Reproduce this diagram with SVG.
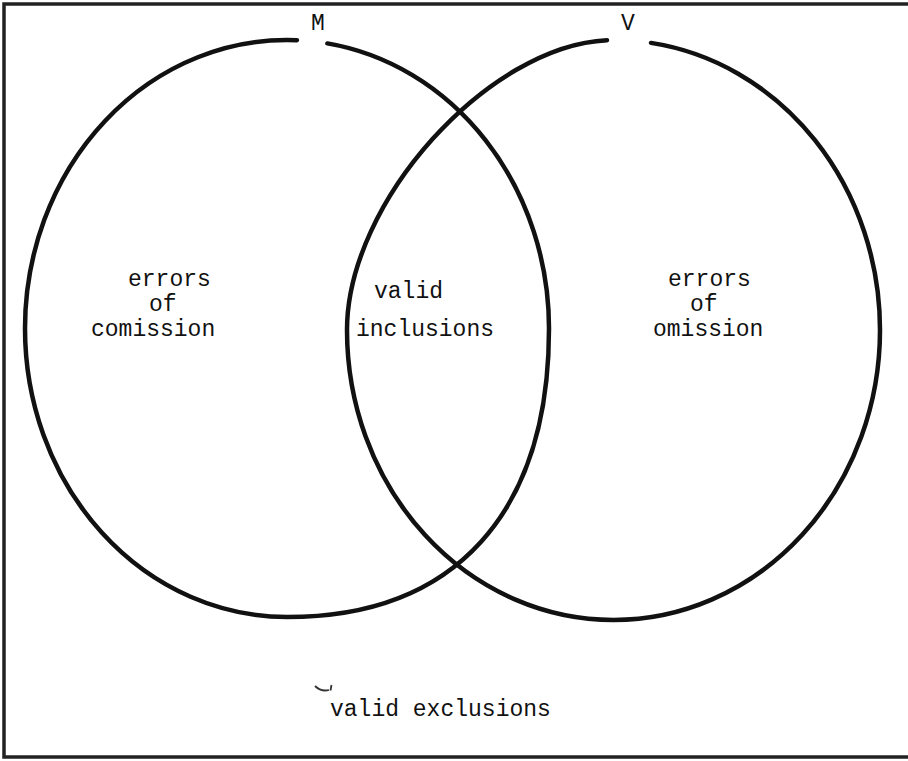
<svg xmlns="http://www.w3.org/2000/svg" width="908" height="761" viewBox="0 0 908 761">
<style>
.ring{fill:none;stroke:#111;stroke-width:4.5;stroke-linecap:round;stroke-linejoin:round}
.frame{fill:none;stroke:#222;stroke-width:3.5}
.t{font-family:"Liberation Mono","Courier New",monospace;font-size:23px;fill:#111}
.lbl{font-family:"Liberation Mono","Courier New",monospace;font-size:23px;fill:#111;text-anchor:middle}
</style>
<rect width="908" height="761" fill="#fff"/>
<path class="frame" d="M908,4 H4 V757 H908"/>
<g id="set-M">
<path class="ring" d="M327.4,43.4 A262,288.5 0 0 1 549,328.5 C549,513.1 454.7,617 287,617 A262,288.5 0 0 1 25,328.5 A262,288.5 0 0 1 296.9,40.2"/>
<text class="lbl" x="318" y="30">M</text>
</g>
<g id="set-V">
<path class="ring" d="M651,42.9 A266.5,290 0 0 1 880,330 A266.5,290 0 0 1 613.5,620 A266.5,290 0 0 1 347,330 C347,201.85 488.37,45.73 607,40.15"/>
<text class="lbl" x="628" y="30">V</text>
</g>
<g id="region-commission">
<text class="t" x="128" y="286">errors</text>
<text class="t" x="149" y="311">of</text>
<text class="t" x="91" y="336">comission</text>
</g>
<g id="region-inclusions">
<text class="t" x="374" y="298">valid</text>
<text class="t" x="356" y="336">inclusions</text>
</g>
<g id="region-omission">
<text class="t" x="668" y="286">errors</text>
<text class="t" x="690" y="311">of</text>
<text class="t" x="653" y="336">omission</text>
</g>
<g id="region-exclusions">
<path d="M315,686 Q321,692 329,690 M330.5,690.5 L331.5,685" fill="none" stroke="#333" stroke-width="1.8"/>
<text class="t" x="330" y="716">valid exclusions</text>
</g>
</svg>
